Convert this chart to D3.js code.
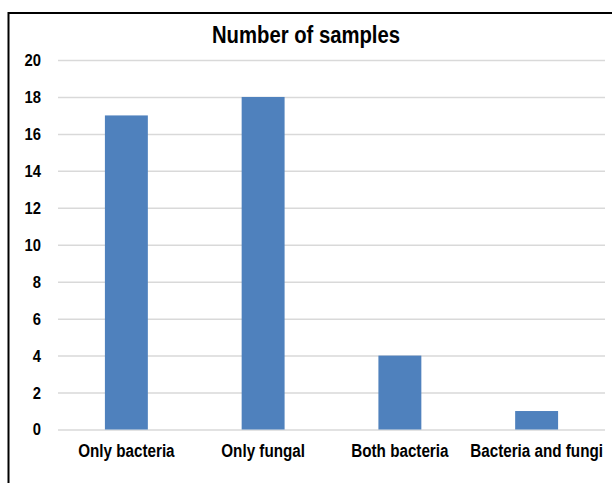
<!DOCTYPE html>
<html><head><meta charset="utf-8">
<script src="https://cdn.jsdelivr.net/npm/d3@7/dist/d3.min.js"></script>
<style>html,body{margin:0;padding:0;background:#fff;}svg{display:block;}</style>
</head><body>
<svg id="c" width="612" height="483"></svg>
<script>
const title = "Number of samples";
const categories = ["Only bacteria", "Only fungal", "Both bacteria", "Bacteria and fungi"];
const values = [17, 18, 4, 1];
const yTicks = [0, 2, 4, 6, 8, 10, 12, 14, 16, 18, 20];

const svg = d3.select("#c");
const W = 612, H = 483;
const m = {left: 58, right: 7, top: 60, bottom: 53.5};
const squeeze = 0.87;
const font = "'Liberation Sans', Arial, sans-serif";

svg.append("rect").attr("width", W).attr("height", H).attr("fill", "#fff");
// outer border (extends past the right/bottom edges)
svg.append("path").attr("d", `M8.5,${H} V13 H${W}`)
  .attr("fill", "none").attr("stroke", "#000").attr("stroke-width", 2);

const x = d3.scaleBand().domain(categories).range([m.left, W - m.right]).paddingInner(0.686).paddingOuter(0.343);
const y = d3.scaleLinear().domain([0, 20]).range([H - m.bottom, m.top]);

// gridlines
const grid = svg.append("g").call(d3.axisLeft(y).tickValues(yTicks).tickSize(-(W - m.right - m.left)).tickFormat(""))
  .attr("transform", `translate(${m.left},0)`);
grid.select(".domain").remove();
grid.selectAll("line").attr("stroke", "#d9d9d9").attr("stroke-width", 1.5);

// bars
svg.append("g").selectAll("rect").data(values).join("rect")
  .attr("x", (d, i) => x(categories[i]))
  .attr("width", x.bandwidth())
  .attr("y", d => y(d))
  .attr("height", d => y(0) - y(d))
  .attr("fill", "#4f81bd");

// y axis labels
const ya = svg.append("g").attr("transform", `translate(${m.left},0)`)
  .call(d3.axisLeft(y).tickValues(yTicks).tickSize(0).tickPadding(17).tickFormat(d3.format("d")));
ya.select(".domain").remove();
ya.selectAll("text").attr("font-family", font).attr("font-weight", "bold").attr("font-size", 17)
  .attr("fill", "#000").attr("x", -17 / squeeze).attr("transform", `scale(${squeeze},1)`);

// x axis labels
const xa = svg.append("g").attr("transform", `translate(0,${y(0)})`)
  .call(d3.axisBottom(x).tickSize(0).tickPadding(15));
xa.select(".domain").remove();
xa.selectAll("text").attr("font-family", font).attr("font-weight", "bold").attr("font-size", 17.5)
  .attr("fill", "#000").attr("transform", `scale(${squeeze},1)`);

// title
svg.append("g").attr("transform", `translate(306,43.3) scale(${squeeze},1)`)
  .append("text").attr("text-anchor", "middle")
  .attr("font-family", font).attr("font-weight", "bold").attr("font-size", 23.3).attr("fill", "#000")
  .text(title);
</script>
</body></html>
